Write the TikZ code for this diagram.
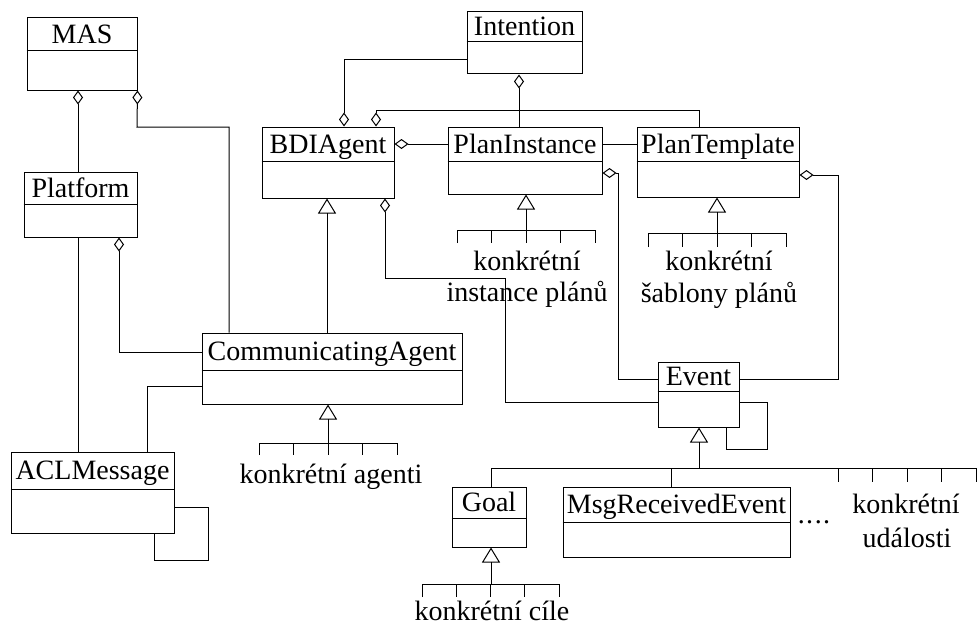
\documentclass[tikz,border=0pt]{standalone}
\usepackage{fontspec}
\setmainfont{Liberation Serif}
\usetikzlibrary{arrows.meta,fit}

\tikzset{
  conn/.style={line width=1pt},
  agg/.style={conn, {Diamond[open,length=14pt,width=10pt]}-},
  gen/.style={conn, -{Triangle[open,length=15pt,width=18pt]}},
  title/.style={anchor=base, inner sep=0pt, font=\fontsize{28}{32}\selectfont},
  lbl/.style={anchor=base, inner sep=0pt, font=\fontsize{28}{32}\selectfont},
}

% UML class box: name, x1, y1, x2, y2, y of the divider, class name
\newcommand\umlclass[7]{%
  \node[draw, conn, rectangle, inner sep=0pt, fit={(#2,#3) (#4,#5)}] (#1) {};
  \draw[conn] (#1.west |- 0,#6) -- (#1.east |- 0,#6);
  \node[title] (#1-name) at ({(#2+#4)/2},{(#3+#6)/2+9}) {#7};
}

% bracket of five equally spaced ticks: left x, right x, top y, bottom y
\newcommand\ticks[4]{%
  \draw[conn] (#1,#4) -- (#1,#3) -- (#2,#3) -- (#2,#4);
  \foreach \k in {1,2,3}
    \draw[conn] ({#1+\k*(#2-#1)/4},#3) -- ({#1+\k*(#2-#1)/4},#4);
}

\begin{document}
\begin{tikzpicture}[x=1pt,y=-1pt]
\useasboundingbox (0,0) rectangle (977,626);

% classes
\umlclass{mas}{27}{18}{137}{90}{51}{MAS}
\umlclass{plat}{24}{172}{137}{237}{204}{Platform}
\umlclass{ca}{202}{333}{462}{404}{370}{CommunicatingAgent}
\umlclass{acl}{11}{452}{174}{533}{489}{ACLMessage}
\umlclass{bdi}{262}{127}{394}{198}{161}{BDIAgent}
\umlclass{intent}{467}{12}{582}{74}{42}{Intention}
\umlclass{plani}{448}{127}{602}{194}{161}{PlanInstance}
\umlclass{plant}{637}{127}{799}{197}{161}{PlanTemplate}
\umlclass{ev}{658}{362}{739}{427}{391}{Event}
\umlclass{goal}{452}{487}{526}{547}{518}{Goal}
\umlclass{msg}{563}{487}{790}{557}{522}{MsgReceivedEvent}

% MAS and Platform
\draw[agg] (mas.south -| 78,0) -- (plat.north -| 78,0);
\draw[agg] (mas.south east) -- (137,127) -- (229,127) -- (ca.north -| 229,0);
\draw[conn] (plat.south -| 78,0) -- (acl.north -| 78,0);
\draw[agg] (plat.south -| 119,0) -- (119,352) -- (ca.west |- 0,352);

% ACLMessage
\draw[conn] (acl.north -| 147,0) -- (147,386) -- (ca.west |- 0,386);
\draw[conn] (acl.east |- 0,507) -- (208,507) -- (208,560) -- (154,560) -- (acl.south -| 154,0);

% BDIAgent and its parts
\draw[gen] (ca.north -| 327,0) -- (bdi.south -| 327,0);
\draw[agg] (bdi.north -| 344,0) -- (344,60) -- (intent.west |- 0,60);
\draw[agg] (bdi.north -| 376,0) -- (376,110) -- (699,110) -- (plant.north -| 699,0);
\draw[agg] (bdi.east |- 0,144) -- (plani.west |- 0,144);
\draw[agg] (bdi.south -| 385,0) -- (385,278) -- (505,278) -- (505,402) -- (ev.west |- 0,402);
\draw[agg] (intent.south -| 519,0) -- (plani.north -| 519,0);
\draw[conn] (plani.east |- 0,144) -- (plant.west |- 0,144);
\draw[agg] (plani.east |- 0,173) -- (618,173) -- (618,379) -- (ev.west |- 0,379);
\draw[agg] (plant.east |- 0,175) -- (838,175) -- (838,379) -- (ev.east |- 0,379);
\draw[conn] (ev.east |- 0,402) -- (767,402) -- (767,449) -- (726,449) -- (ev.south -| 726,0);

% concrete agents
\coordinate (caf) at (328,443);
\draw[gen] (caf) -- (ca.south -| caf);
\ticks{259}{397}{443}{455}
\node[lbl] (agents) at (331,483) {konkrétní agenti};

% concrete plan instances
\coordinate (pif) at (526,230);
\draw[gen] (pif) -- (plani.south -| pif);
\ticks{457}{595}{230}{243}
\node[lbl] (pi1) at (527,270) {konkrétní};
\node[lbl] (pi2) at (527,301.5) {instance plánů};

% concrete plan templates
\coordinate (ptf) at (717,233);
\draw[gen] (ptf) -- (plant.south -| ptf);
\ticks{648}{786}{233}{247}
\node[lbl] (pt1) at (719,270) {konkrétní};
\node[lbl] (pt2) at (719,302.5) {šablony plánů};

% event hierarchy
\coordinate (evf) at (699,468);
\draw[gen] (evf) -- (ev.south -| evf);
\draw[conn] (491,468) -- (976,468);
\draw[conn] (491,468) -- (goal.north -| 491,0);
\draw[conn] (671,468) -- (msg.north -| 671,0);
\foreach \x in {838,872.5,907,941.5,976}
  \draw[conn] (\x,468) -- (\x,482);
\node[lbl] (dots) at (814,523) {.\kern1.5pt.\kern1.5pt.\kern1.5pt.};
\node[lbl] (ev1) at (906,513) {konkrétní};
\node[lbl] (ev2) at (907,547) {události};

% concrete goals
\coordinate (gf) at (491,584);
\draw[gen] (gf) -- (goal.south -| gf);
\ticks{422}{559}{584}{597}
\node[lbl] (goals) at (492,620) {konkrétní cíle};
\end{tikzpicture}
\end{document}
